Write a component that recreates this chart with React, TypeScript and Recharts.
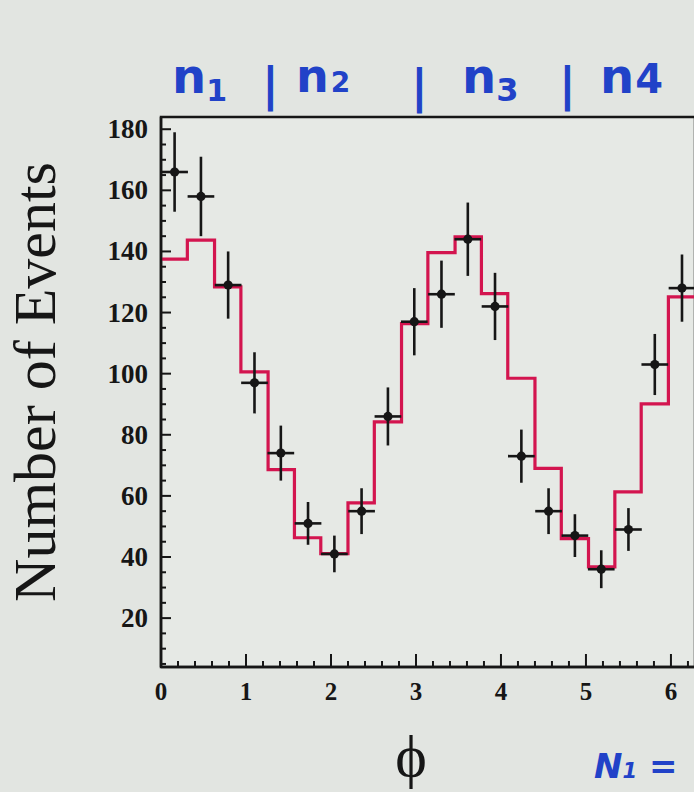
import React from 'react';
import { ComposedChart, Line, Scatter, ErrorBar, XAxis, YAxis, ReferenceArea } from 'recharts';

// histogram bin edges (phi), 20 bins over 0..2pi
const binEdges = [0, 0.31, 0.63, 0.94, 1.26, 1.57, 1.88, 2.2, 2.51, 2.83, 3.14, 3.46, 3.77, 4.08, 4.4, 4.71, 5.03, 5.34, 5.65, 5.97, 6.283];
// fitted histogram (red step line)
const fitValues = [137.5, 143.7, 128.4, 100.6, 68.6, 46.3, 41.1, 57.7, 84.2, 116.4, 139.6, 144.8, 126.2, 98.5, 69.0, 46.0, 36.8, 61.3, 90.1, 125.1];

// measured points
const binCenters = [0.16, 0.47, 0.79, 1.1, 1.41, 1.73, 2.04, 2.36, 2.67, 2.98, 3.3, 3.61, 3.93, 4.24, 4.56, 4.87, 5.18, 5.5, 5.81, 6.13];
const eventCounts = [166, 158, 129, 97, 74, 51, 41, 55, 86, 117, 126, 144, 122, 73, 55, 47, 36, 49, 103, 128];
const countErrors = [13, 13, 11, 10, 9, 7, 6, 7.5, 9.5, 11, 11, 12, 11, 8.7, 7.5, 7, 6.2, 7, 10, 11];
const binHalfWidth = 0.157;

const yMajorTicks = [20, 40, 60, 80, 100, 120, 140, 160, 180];
const yMinorTicks = [5, 10, 15, 25, 30, 35, 45, 50, 55, 65, 70, 75, 85, 90, 95, 105, 110, 115, 125, 130, 135, 145, 150, 155, 165, 170, 175];
const xMajorTicks = [0, 1, 2, 3, 4, 5, 6];
const xMinorTicks = [0.2, 0.4, 0.6, 0.8, 1.2, 1.4, 1.6, 1.8, 2.2, 2.4, 2.6, 2.8, 3.2, 3.4, 3.6, 3.8, 4.2, 4.4, 4.6, 4.8, 5.2, 5.4, 5.6, 5.8, 6.2];

const X_DOMAIN = [0, 6.283];
const Y_DOMAIN = [4, 184];

const histData = binEdges.map((x, i) => ({ x, fit: fitValues[Math.min(i, fitValues.length - 1)] }));
const pointData = binCenters.map((x, i) => ({ x, n: eventCounts[i], err: countErrors[i], xerr: binHalfWidth }));

const allX = [...xMajorTicks, ...xMinorTicks].sort((a, b) => a - b);
const allY = [...yMajorTicks, ...yMinorTicks].sort((a, b) => a - b);

const INK = '#161616';
const BLUE = '#2142c8';
const SERIF = 'Liberation Serif';

// ticks point into the plot; x / y given by the axis sit on the axis line
const YTick = (props: any) => {
  const { x, y, payload } = props;
  const major = yMajorTicks.includes(payload.value);
  return (
    <g>
      <line x1={x} x2={x + (major ? 10 : 5)} y1={y} y2={y} stroke={INK} strokeWidth={2} />
      {major && (
        <text x={x - 13} y={y + 9} textAnchor="end" fontFamily={SERIF} fontWeight="bold" fontSize={27} fill={INK}>
          {payload.value}
        </text>
      )}
    </g>
  );
};

const XTick = (props: any) => {
  const { x, y, payload } = props;
  const major = xMajorTicks.includes(payload.value);
  return (
    <g>
      <line x1={x} x2={x} y1={y} y2={y - (major ? 13 : 6)} stroke={INK} strokeWidth={2} />
      {major && (
        <text x={x} y={y + 33} textAnchor="middle" fontFamily={SERIF} fontWeight="bold" fontSize={25} fill={INK}>
          {payload.value}
        </text>
      )}
    </g>
  );
};

const Dot = (props: any) => <circle cx={props.cx} cy={props.cy} r={4.6} fill={INK} />;

export default function App() {
  return (
    <div style={{ position: 'absolute', left: 0, top: 0, width: 694, height: 792, overflow: 'hidden', background: '#e2e5e1' }}>
      <ComposedChart width={720} height={792} margin={{ top: 117, right: 25, bottom: 0, left: 61 }}>
        <ReferenceArea x1={X_DOMAIN[0]} x2={X_DOMAIN[1]} y1={Y_DOMAIN[0]} y2={Y_DOMAIN[1]}
          fill="#e6e9e5" fillOpacity={1} stroke={INK} strokeWidth={2.5} />
        <XAxis dataKey="x" type="number" domain={X_DOMAIN} allowDataOverflow ticks={allX} interval={0}
          height={125} tickSize={0} tickMargin={0} tickLine={false} tick={<XTick />}
          axisLine={{ stroke: INK, strokeWidth: 2.5 }} />
        <YAxis type="number" domain={Y_DOMAIN} allowDataOverflow ticks={allY} interval={0}
          width={100} tickSize={0} tickMargin={0} tickLine={false} tick={<YTick />}
          axisLine={{ stroke: INK, strokeWidth: 2.5 }} />
        <Line data={histData} dataKey="fit" type="stepAfter"
          stroke="#d3154f" strokeWidth={3.2} dot={false} activeDot={false} isAnimationActive={false} />
        <Scatter data={pointData} dataKey="n" shape={Dot} isAnimationActive={false}>
          <ErrorBar dataKey="xerr" direction="x" width={0} stroke={INK} strokeWidth={2.6} isAnimationActive={false} />
          <ErrorBar dataKey="err" direction="y" width={0} stroke={INK} strokeWidth={2.6} isAnimationActive={false} />
        </Scatter>
      </ComposedChart>

      <svg width={694} height={792} style={{ position: 'absolute', left: 0, top: 0, pointerEvents: 'none' }}>
        <text transform="translate(55,382) rotate(-90)" textAnchor="middle" fontFamily={SERIF} fontSize={60} fill={INK}>
          Number of Events
        </text>
        <text x={411} y={776} textAnchor="middle" fontFamily={SERIF} fontSize={60} fill={INK}>ϕ</text>

        <g fontFamily="DejaVu Sans" fontWeight="bold" fill={BLUE}>
          <text x={172} y={93} fontSize={48}>n<tspan fontSize={30} dy={8}>1</tspan></text>
          <text x={262} y={100} fontSize={46}>|</text>
          <text x={296} y={92} fontSize={46}>n<tspan fontSize={28} dx={2}>2</tspan></text>
          <text x={411} y={102} fontSize={46}>|</text>
          <text x={462} y={93} fontSize={48}>n<tspan fontSize={32} dy={8}>3</tspan></text>
          <text x={559} y={100} fontSize={46}>|</text>
          <text x={600} y={93} fontSize={48}>n<tspan fontSize={40} dx={1}>4</tspan></text>
        </g>
        <text x={594} y={778} fontFamily="DejaVu Sans" fontWeight="bold" fontStyle="italic" fontSize={34} fill={BLUE}>
          N<tspan fontSize={21}>1</tspan> =
        </text>
      </svg>
    </div>
  );
}
